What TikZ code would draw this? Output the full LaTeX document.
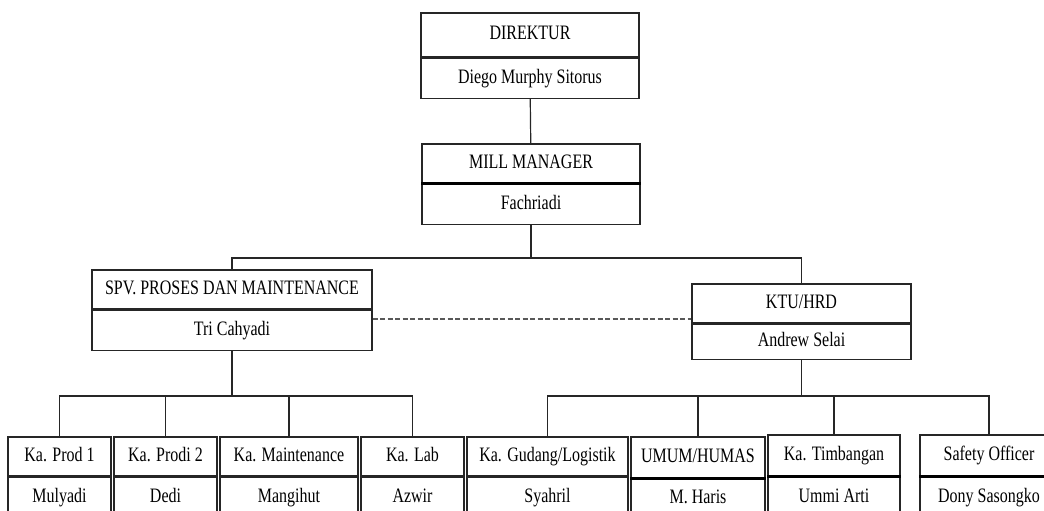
\documentclass[tikz,border=0pt]{standalone}
\usepackage{fontspec}
\setmainfont[FakeStretch=0.78]{Liberation Serif}
\usepackage{tikz}
\usetikzlibrary{calc,positioning}

\tikzset{
  jabatan/.style = {draw=black!85, line width=1.2pt, inner sep=0pt, minimum height=39pt, text height=14pt, text depth=4pt, font=\fontsize{20.5}{24}\selectfont},
  nama/.style = {jabatan, anchor=north},
  garis/.style = {draw=black!85, line width=1.2pt},
  garis tebal/.style = {draw=black, line width=2.6pt},
  garis putus/.style = {draw=black!65, line width=1.8pt, dash pattern=on 5pt off 2.5pt}
}

\begin{document}
\begin{tikzpicture}[x=1pt,y=-1pt]
  \useasboundingbox (0,0) rectangle (1044,511);
  \clip (0,0) rectangle (1044,511);
  %\draw[help lines,step=50] (0,0) grid (1044,511); %Hilfsgitter

  % top
  \node[jabatan, minimum width=218pt, minimum height=44pt] (dir) at (530,35) {DIREKTUR};
  \node[nama, minimum width=218pt, minimum height=40pt] (dirN) at (dir.south) {Diego Murphy Sitorus};
  \node[jabatan, minimum width=218pt] (mill) at (531,163.5) {MILL MANAGER};
  \node[nama, minimum width=218pt, minimum height=40pt] (millN) at (mill.south) {Fachriadi};
  \draw[garis tebal] (mill.south west) -- (mill.south east); % thick divider

  % second level
  \node[jabatan, minimum width=280pt] (spv) at (232,289.5) {SPV. PROSES DAN MAINTENANCE};
  \node[nama, minimum width=280pt, minimum height=40pt] (spvN) at (spv.south) {Tri Cahyadi};
  \node[jabatan, minimum width=219pt] (ktu) at (801.5,303.5) {KTU/HRD};
  \node[nama, minimum width=219pt, minimum height=35pt] (ktuN) at (ktu.south) {Andrew Selai};

  % bottom left
  \node[jabatan, minimum width=103pt] (prod1) at (59.5,456.5) {Ka. Prod 1};
  \node[nama, minimum width=103pt, minimum height=41pt] (prod1N) at (prod1.south) {Mulyadi};
  \node[jabatan, minimum width=103pt] (prodi2) at (165.5,456.5) {Ka. Prodi 2};
  \node[nama, minimum width=103pt, minimum height=41pt] (prodi2N) at (prodi2.south) {Dedi};
  \node[jabatan, minimum width=138pt] (maint) at (289,456.5) {Ka. Maintenance};
  \node[nama, minimum width=138pt, minimum height=41pt] (maintN) at (maint.south) {Mangihut};
  \node[jabatan, minimum width=103pt] (lab) at (412.5,456.5) {Ka. Lab};
  \node[nama, minimum width=103pt, minimum height=41pt] (labN) at (lab.south) {Azwir};

  % bottom right
  \node[jabatan, minimum width=161pt] (gudang) at (547.5,456.5) {Ka. Gudang/Logistik};
  \node[nama, minimum width=161pt, minimum height=41pt] (gudangN) at (gudang.south) {Syahril};
  \node[jabatan, minimum width=134pt, minimum height=41pt] (umum) at (698,457.5) {UMUM/HUMAS};
  \node[nama, minimum width=134pt, minimum height=39pt] (umumN) at (umum.south) {M. Haris};
  \draw[garis tebal] (umum.south west) -- (umum.south east);
  \node[jabatan, minimum width=132pt, minimum height=41pt] (timb) at (834,455.5) {Ka. Timbangan};
  \node[nama, minimum width=132pt, minimum height=41pt] (timbN) at (timb.south) {Ummi Arti};
  \draw[garis tebal] (timb.south west) -- (timb.south east);
  \node[jabatan, minimum width=138pt, minimum height=41pt] (safety) at (989,455.5) {Safety Officer};
  \node[nama, minimum width=138pt, minimum height=41pt] (safetyN) at (safety.south) {Dony Sasongko};
  \draw[garis tebal] (safety.south west) -- (safety.south east);

  % connectors
  \coordinate (simpulA) at (531,258);
  \coordinate (simpulB) at (232,396);
  \coordinate (simpulC) at (801.5,396);

  \draw[garis] (dirN) -- (mill);
  \draw[garis] (millN) -- (simpulA);
  \draw[garis] (spv.north) |- (simpulA) -| (ktu.north);

  \draw[garis] (spvN) -- (simpulB);
  \draw[garis] (prod1.north) |- (simpulB) -| (lab.north);
  \draw[garis] (prodi2.north) -- (prodi2.north |- simpulB);
  \draw[garis] (maint.north) -- (maint.north |- simpulB);

  \draw[garis] (ktuN) -- (simpulC);
  \draw[garis] (gudang.north) |- (simpulC) -| (safety.north);
  \draw[garis] (umum.north) -- (umum.north |- simpulC);
  \draw[garis] (timb.north) -- (timb.north |- simpulC);

  \draw[garis putus] ([yshift=-9pt]spvN.north east) -- ([yshift=-9pt]spvN.north east -| ktu.west); % dashed
\end{tikzpicture}
\end{document}
